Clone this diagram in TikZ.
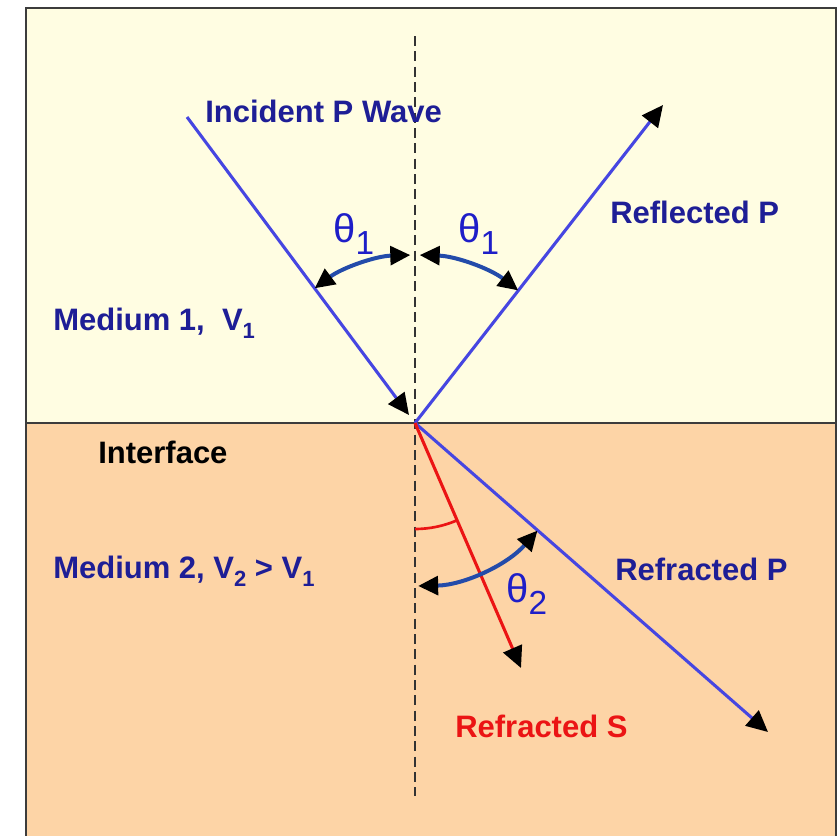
\documentclass[tikz,border=0pt]{standalone}
\usepackage{fontspec}
\setmainfont{Liberation Sans}
\usetikzlibrary{arrows.meta,calc}
\definecolor{topbg}{RGB}{255,253,226}
\definecolor{botbg}{RGB}{253,212,166}
\definecolor{rayblue}{RGB}{70,70,225}
\definecolor{txtblue}{RGB}{30,30,150}
\definecolor{thblue}{RGB}{30,30,200}
\definecolor{arcblue}{RGB}{35,75,170}
\definecolor{rayred}{RGB}{235,20,20}
\definecolor{framegray}{RGB}{60,60,60}
\newcommand{\mysub}[1]{\raisebox{-6.5pt}{\fontsize{16.5}{18}\selectfont #1}}
\newcommand{\thsub}[1]{\raisebox{-9pt}{\fontsize{25}{27}\selectfont #1}}
\tikzset{
  lbl/.style={inner sep=0pt, anchor=base west, font=\fontsize{23.25}{28}\selectfont\bfseries, text=txtblue},
  thlbl/.style={inner sep=0pt, anchor=base west, font=\fontsize{30}{32}\selectfont, text=thblue},
  ray/.style={draw=rayblue, line width=2.3pt},
  redray/.style={draw=rayred, line width=2.3pt},
  tipend/.style={-{Triangle[length=16pt,width=15pt,black]}},
  bothtips/.style={{Triangle[length=15pt,width=14pt,black]}-{Triangle[length=15pt,width=14pt,black]}},
  anglearc/.style={draw=arcblue, line width=3pt},
}
\begin{document}
\begin{tikzpicture}[x=0.75pt,y=-0.75pt]
\useasboundingbox (0,0) rectangle (838,835);
\clip (0,0) rectangle (838,835);
% backgrounds
\fill[topbg] (27,9) rectangle (836,423);
\fill[botbg] (27,423) rectangle (836,840);
% frame
\draw[framegray, line width=1.6pt] (26,845) -- (26,8) -- (836,8) -- (836,845);
% interface
\draw[framegray, line width=1.6pt] (26,423) -- (836,423);
% normal
\coordinate (nTop) at (415,36);
\coordinate (nBot) at (415,796);
\draw[black!80, line width=0.9pt, dash pattern=on 7.5pt off 4pt] (nTop) -- (nBot);
% rays
\coordinate (O) at (415,423);
\coordinate (incS) at (187,117);
\coordinate (incE) at (409,415);
\coordinate (reflE) at (663,105);
\coordinate (rpE) at (768,732);
\coordinate (rsE) at (521,668);
\draw[ray, tipend] (incS) -- (incE);
\draw[ray, tipend] (O) -- (reflE);
\draw[ray, tipend] (O) -- (rpE);
\draw[redray, tipend] (O) -- (rsE);
% angle arcs
\draw[anglearc, bothtips] ($(O)+(-126.7:168)$) arc[start angle=-126.7, end angle=-91.6, radius=168];
\draw[anglearc, bothtips] ($(O)+(-88.4:168)$) arc[start angle=-88.4, end angle=-52.1, radius=168];
\draw[anglearc, bothtips] ($(O)+(88.9:163)$) arc[start angle=88.9, end angle=41.3, radius=163];
\draw[draw=rayred, line width=2pt] ($(O)+(90:106)$) arc[start angle=90, end angle=66.6, radius=106];
% labels
\node[lbl] (inc) at (205,122) {Incident P Wave};
\node[lbl] (refl) at (610,223) {Reflected P};
\node[lbl] (m1) at (53,330) {Medium 1,\ \ V\mysub{1}};
\node[lbl, text=black] (intf) at (98,463) {Interface};
\node[lbl] (m2) at (53,578) {Medium 2, V\mysub{2} > V\mysub{1}};
\node[lbl] (rp) at (615,580) {Refracted P};
\node[lbl, text=rayred] (rs) at (455,737) {Refracted S};
\node[thlbl] (t1l) at (333,242) {θ\thsub{1}};
\node[thlbl] (t1r) at (458,242) {θ\thsub{1}};
\node[thlbl] (t2) at (506,602) {θ\thsub{2}};
\end{tikzpicture}
\end{document}
